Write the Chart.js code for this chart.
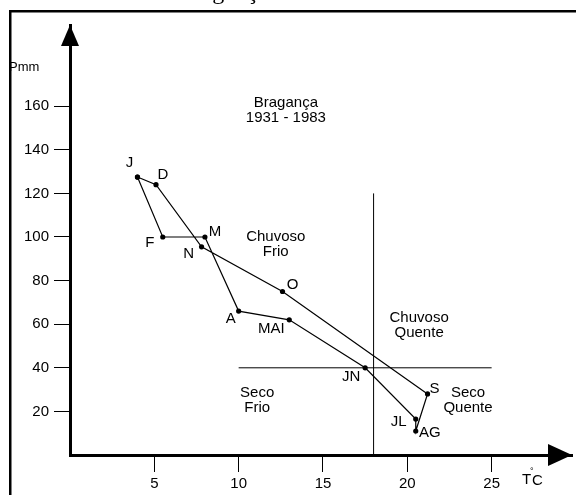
<!DOCTYPE html>
<html>
<head>
<meta charset="utf-8">
<script src="https://cdn.jsdelivr.net/npm/chart.js@4.4.1/dist/chart.umd.min.js"></script>
<style>
  html, body { margin: 0; padding: 0; background: #fff; }
  #wrap { width: 576px; height: 495px; position: relative; }
</style>
</head>
<body>
<div id="wrap"><canvas id="c" width="576" height="495"></canvas></div>
<script>
// months around the loop (J = janeiro ... D = dezembro)
const months = ['J', 'F', 'M', 'A', 'MAI', 'JN', 'JL', 'AG', 'S', 'O', 'N', 'D'];
const tempC  = [4.0, 5.5, 8.0, 10.0, 13.0, 17.5, 20.5, 20.5, 21.2, 12.6, 7.8, 5.1];
const precip = [127.5, 100, 100, 66, 62, 40, 16.5, 11, 28, 75, 95.5, 124];
const xTicks = [5, 10, 15, 20, 25];
const yTicks = [20, 40, 60, 80, 100, 120, 140, 160];
// limits of the quadrants: T = 18 C, P = 40 mm
const vLine = [{ x: 18, y: 0 }, { x: 18, y: 120 }];
const hLine = [{ x: 10, y: 40 }, { x: 25, y: 40 }];

const FONT = '"Liberation Sans", Arial, Helvetica, sans-serif';

// label offsets (px) for each month dot
const labelOff = {
  J: [-8, -14], F: [-13, 6], M: [10, -5], A: [-8, 8], MAI: [-18, 9], JN: [-14, 9],
  JL: [-17, 3], AG: [14, 2], S: [7, -5], O: [10, -7], N: [-13, 7], D: [7, -10]
};

const loop = months.map((m, i) => ({ x: tempC[i], y: precip[i] }));
loop.push({ x: tempC[0], y: precip[0] });

const decor = {
  id: 'decor',
  beforeDraw(chart) {
    const ctx = chart.ctx;
    ctx.save();
    ctx.fillStyle = '#fff';
    ctx.fillRect(0, 0, chart.width, chart.height);
    ctx.fillStyle = '#000';
    // frame (top + left only)
    ctx.fillRect(9, 10, chart.width - 9, 2.5);
    ctx.fillRect(9, 10, 2.5, chart.height - 10);
    // cut-off heading above the frame
    ctx.font = '24px "Liberation Serif", "Times New Roman", serif';
    ctx.textAlign = 'center';
    ctx.textBaseline = 'alphabetic';
    ctx.fillText('Bragança 1931 - 1983', 284, -1);
    ctx.restore();
  },
  afterDraw(chart) {
    const ctx = chart.ctx;
    const xs = chart.scales.x, ys = chart.scales.y;
    const a = chart.chartArea;
    ctx.save();
    ctx.fillStyle = '#000';
    // arrow heads
    const ax = xs.getPixelForValue(0);
    ctx.beginPath();
    ctx.moveTo(ax, a.top);
    ctx.lineTo(ax - 9, a.top + 21);
    ctx.lineTo(ax + 9, a.top + 21);
    ctx.closePath();
    ctx.fill();
    const ay = ys.getPixelForValue(0);
    ctx.beginPath();
    ctx.moveTo(a.right, ay);
    ctx.lineTo(a.right - 24, ay - 11);
    ctx.lineTo(a.right - 24, ay + 11);
    ctx.closePath();
    ctx.fill();

    ctx.font = '15px ' + FONT;
    ctx.textAlign = 'center';
    ctx.textBaseline = 'middle';
    // month labels
    months.forEach((m, i) => {
      const px = xs.getPixelForValue(tempC[i]);
      const py = ys.getPixelForValue(precip[i]);
      const o = labelOff[m];
      ctx.fillText(m, px + o[0], py + o[1]);
    });
    // quadrant and station texts
    const txt = (lines, x, y) => {
      const px = xs.getPixelForValue(x), py = ys.getPixelForValue(y);
      lines.forEach((l, k) => ctx.fillText(l, px, py + (k - (lines.length - 1) / 2) * 15));
    };
    txt(['Bragança', '1931 - 1983'], 12.8, 158);
    txt(['Chuvoso', 'Frio'], 12.2, 96.8);
    txt(['Chuvoso', 'Quente'], 20.7, 59.4);
    txt(['Seco', 'Frio'], 11.1, 25);
    txt(['Seco', 'Quente'], 23.6, 25);
    // axis names
    ctx.font = '13px ' + FONT;
    ctx.textAlign = 'left';
    ctx.fillText('Pmm', 9, 67);
    ctx.font = '15px ' + FONT;
    ctx.fillText('T', 522, 480);
    ctx.fillText('C', 532, 481);
    ctx.font = '9px ' + FONT;
    ctx.fillText('°', 530, 472);
    ctx.restore();
  }
};

new Chart(document.getElementById('c'), {
  type: 'scatter',
  data: {
    datasets: [
      { data: loop, showLine: true, borderColor: '#000', borderWidth: 1.2,
        pointRadius: 2.6, pointBackgroundColor: '#000', pointBorderWidth: 0, tension: 0 },
      { data: vLine, showLine: true, borderColor: '#000', borderWidth: 1, pointRadius: 0 },
      { data: hLine, showLine: true, borderColor: '#000', borderWidth: 1, pointRadius: 0 }
    ]
  },
  options: {
    responsive: false,
    animation: false,
    devicePixelRatio: 1,
    layout: { padding: { top: 25, right: 0, left: 0, bottom: 0 } },
    plugins: { legend: { display: false }, tooltip: { enabled: false } },
    scales: {
      x: {
        type: 'linear', min: 0, max: 506 / 17,
        afterBuildTicks: s => { s.ticks = xTicks.map(v => ({ value: v })); },
        afterFit: s => { s.height = 40; },
        border: { display: true, color: '#000', width: 3 },
        grid: { drawOnChartArea: false, drawTicks: true, tickLength: 17, color: '#000', lineWidth: 1 },
        ticks: { color: '#000', font: { family: FONT, size: 15 }, padding: 3, maxRotation: 0 }
      },
      y: {
        type: 'linear', min: 0, max: 430 / 2.18,
        afterBuildTicks: s => { s.ticks = yTicks.map(v => ({ value: v })); },
        afterFit: s => { s.width = 70; },
        border: { display: true, color: '#000', width: 3 },
        grid: { drawOnChartArea: false, drawTicks: true, tickLength: 16, color: '#000', lineWidth: 1 },
        ticks: { color: '#000', font: { family: FONT, size: 15 }, padding: 5 }
      }
    }
  },
  plugins: [decor]
});
</script>
</body>
</html>
